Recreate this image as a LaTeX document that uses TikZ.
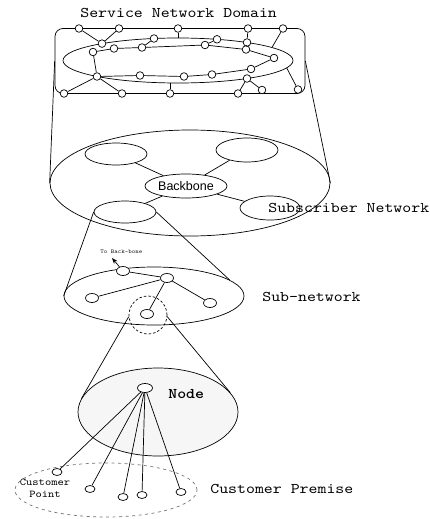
\documentclass[tikz,border=0pt]{standalone}
\usepackage{fontspec}
\newfontfamily\monof[Extension=.otf,UprightFont=lmmono10-regular,BoldFont=lmmonolt10-bold,FakeStretch=1.15]{lmmono10-regular}
\newfontfamily\sansf{Liberation Sans}
\usetikzlibrary{shapes.geometric,arrows.meta}

\begin{document}
\begin{tikzpicture}[x=1pt,y=-1pt,line width=0.7pt,
  dot/.style={circle,draw,fill=white,inner sep=0pt,minimum size=7.6pt},
  oval/.style={ellipse,draw,inner sep=0pt},
  smalloval/.style={oval,fill=white,minimum width=13pt,minimum height=9pt},
  cpoint/.style={oval,fill=white,minimum width=10pt,minimum height=7pt},
  lbl/.style={font=\monof\fontsize{14.8}{16}\selectfont,anchor=west,inner sep=0pt},
]
\useasboundingbox (0,0) rectangle (429,519);

% ---------- Service network domain ----------
\node[lbl] (tdom) at (80,13) {Service Network Domain};
\node[draw,rounded corners=8pt,minimum width=250pt,minimum height=65pt,inner sep=0pt] (R) at (180,61) {};
\node[oval,minimum width=230pt,minimum height=45pt] (dom) at (178,60.5) {};

\foreach \n/\x/\y in {a1/79/28.5, a2/119/28.5, a3/178/28.5, a4/248/28.5, a5/283/28.5,
    b1/102/43.6, b2/154/38.5, b3/217/39.3, b4/247/42.5,
    c1/93/52, c2/114/48.5, c3/142/47.5, c4/205/45, c5/246/49.5, c6/274/58,
    d1/97/76.5, d2/140/75.5, d3/184/76.5, d4/212/74.5, d5/251/69, d6/247/78.5,
    e1/64/93.5, e2/122/93.5, e3/170/93.5, e4/238/93.5, e5/262/90, e6/298/89.5}
  \node[dot] (\n) at (\x,\y) {};

% inner ring
\draw (c1) -- (c2) -- (c3) -- (c4) -- (c5) -- (c6) -- (d5) -- (d4) -- (d3) -- (d2) -- (d1) -- (c1);
% spokes
\draw (a1) -- (b1);  \draw (a2) -- (b1);
\draw (b2) -- (c3);  \draw (b3) -- (c4);
\draw (a4) -- (b4);  \draw (b4) -- (c5);
\draw (e1) -- (d1);  \draw (e2) -- (d1);
\draw (d6) -- (e4);  \draw (d6) -- (e5);
\draw (a3) -- (a3 |- dom.north);
\draw (a5) -- (dom.8);
\draw (e6) -- (dom.-4);
\draw (e3) -- (e3 |- dom.south);

% ---------- Subscriber network ----------
\node[oval,minimum width=280pt,minimum height=106pt] (sub) at (190,183) {};
\draw (R.west) -- (sub.west);
\draw (R.east) -- (sub.east);
\node[oval,minimum width=62pt,minimum height=22pt] (ul) at (116,154) {};
\node[oval,minimum width=62pt,minimum height=24pt] (ur) at (247,150) {};
\node[oval,minimum width=82pt,minimum height=24pt,font=\sansf\fontsize{12.5}{14}\selectfont] (bb) at (186,186) {Backbone};
\node[oval,minimum width=62pt,minimum height=22pt] (ll) at (125,212) {};
\node[oval,minimum width=60pt,minimum height=24pt] (lr) at (270,208) {};
\draw (bb) -- (ul);
\draw (bb) -- (ur);
\draw (bb) -- (ll);
\draw (bb) -- (lr);
\node[lbl] (tsub) at (268,208) {Subscriber Network};

% ---------- Sub-network ----------
\node[oval,minimum width=180pt,minimum height=58pt] (sn) at (154,296) {};
\draw (ll.west) -- (sn.west);
\draw (ll.east) -- (sn.12);
\node[smalloval] (n1) at (123,271) {};
\node[smalloval] (n2) at (167,278) {};
\node[smalloval] (n3) at (92,298) {};
\node[smalloval] (n4) at (210,303) {};
\node[smalloval] (n5) at (147,314) {};
\draw (n1) -- (n2);
\draw (n2) -- (n3);
\draw (n2) -- (n4);
\draw (n2) -- (n5);
\node[font=\monof\fontsize{5.8}{7}\selectfont,anchor=west,inner sep=0pt] (tobb) at (100,252) {To Back-bone};
\coordinate (tbtip) at (112,258);
\draw[-{Stealth[length=6pt,width=4.5pt]}] (n1) -- (tbtip);
\node[lbl] (tsn) at (262,297) {Sub-network};
\node[circle,draw,dash pattern=on 2.5pt off 2pt,minimum size=38pt,inner sep=0pt] (dc) at (148,315) {};

% ---------- Node ----------
\node[oval,fill=gray!7,minimum width=160pt,minimum height=88pt] (nd) at (158,412) {};
\draw (dc.185) -- (nd.170);
\draw (dc.-5) -- (nd.15);
\node[oval,fill=white,minimum width=15pt,minimum height=9pt] (nc) at (145,388) {};
\node[lbl,font=\monof\bfseries\fontsize{14.8}{16}\selectfont] (tnode) at (168,394) {Node};

% ---------- Customer premise ----------
\node[oval,draw=black!55,dash pattern=on 3pt off 3.5pt,minimum width=182pt,minimum height=54pt] (prem) at (106,490) {};
\node[cpoint] (p1) at (57,472) {};
\node[cpoint] (p2) at (90,489) {};
\node[cpoint] (p3) at (123,497) {};
\node[cpoint] (p4) at (142,495) {};
\node[cpoint] (p5) at (181,492) {};
\foreach \p in {p1,p2,p3,p4,p5} \draw (nc) -- (\p);
\node[font=\monof\fontsize{10.4}{12}\selectfont,align=center,inner sep=0pt] (tcp) at (45,488) {Customer\\Point};
\node[lbl] (tprem) at (210,489) {Customer Premise};
\end{tikzpicture}
\end{document}
